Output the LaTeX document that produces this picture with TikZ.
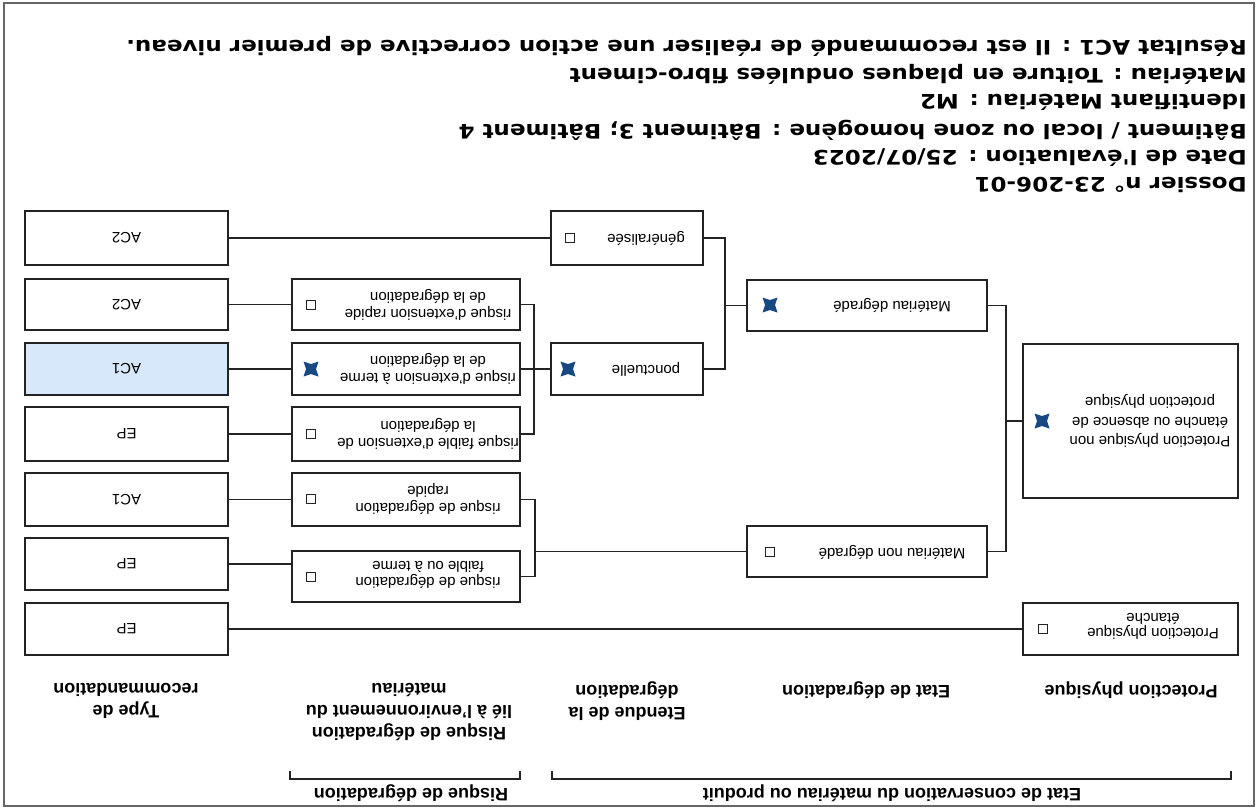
\documentclass[tikz,border=0pt]{standalone}
\usepackage{fontspec}
\setmainfont{Liberation Sans}
\newfontfamily\hdrfont{DejaVu Sans}
\definecolor{ckblue}{RGB}{24,72,130}
\definecolor{acfill}{RGB}{214,232,249}
\definecolor{ln}{RGB}{35,35,35}
\begin{document}
\begin{tikzpicture}[x=1pt,y=-1pt,
  box/.style={draw=ln, line width=1.8pt, inner sep=0pt, fill=white},
  colP/.style={box, minimum width=215pt},
  colE/.style={box, minimum width=240pt},
  colG/.style={box, minimum width=152pt},
  colR/.style={box, minimum width=228pt},
  colT/.style={box, minimum width=203pt, font=\fontsize{15}{17}\selectfont, rotate=180},
  hbox/.style={minimum height=52pt},
  txt/.style={rotate=180, align=center, inner sep=0pt, font=\fontsize{15}{16.5}\selectfont},
  lbl/.style={rotate=180, align=center, inner sep=0pt, font=\fontsize{18}{22}\selectfont\bfseries},
  hdr/.style={rotate=180, xscale=1.15, anchor=west, inner sep=0pt, font=\hdrfont\bfseries\fontsize{20}{23}\selectfont},
  conn/.style={draw=ln, line width=1.8pt},
  emptychk/.pic={\draw[line width=1.3pt, ln, fill=white] (-4.5,-4.5) rectangle (4.5,4.5);},
  fullchk/.pic={\fill[ckblue] (-7.5,-7.5) -- (0,-5) -- (7.5,-7.5) -- (5,0) -- (7.5,7.5) -- (0,5) -- (-7.5,7.5) -- (-5,0) -- cycle;}
]
\useasboundingbox (0,0) rectangle (1257,809);
\draw[black!60, line width=1.5pt] (4,3) rectangle (1254,806);

% header
\node[hdr] (h1) at (1247,46) {Résultat AC1 : Il est recommandé de réaliser une action corrective de premier niveau.};
\node[hdr] (h2) at (1247,74) {Matériau : Toiture en plaques ondulées fibro-ciment};
\node[hdr] (h3) at (1247,102) {Identifiant Matériau : M2};
\node[hdr] (h4) at (1247,130) {Bâtiment / local ou zone homogène : Bâtiment 3; Bâtiment 4};
\node[hdr] (h5) at (1247,158) {Date de l'évaluation : 25/07/2023};
\node[hdr] (h6) at (1247,185) {Dossier n° 23-206-01};

% protection column
\node[colP, minimum height=154pt] (pA) at (1130.5,421) {};
\node[colP, hbox] (pB) at (1130.5,629) {};
% etat column
\node[colE, minimum height=51pt] (eA) at (867,305.5) {};
\node[colE, minimum height=51pt] (eB) at (867,551.5) {};
% etendue column
\node[colG, minimum height=54pt] (gA) at (627,238) {};
\node[colG, hbox] (gB) at (627,369) {};
% risque column
\node[colR, minimum height=51pt] (r1) at (406,304.5) {};
\node[colR, hbox] (r2) at (406,369) {};
\node[colR, minimum height=54pt] (r3) at (406,434) {};
\node[colR, minimum height=53pt] (r4) at (406,499.5) {};
\node[colR, minimum height=51pt] (r5) at (406,576.5) {};
% type column
\node[colT, minimum height=54pt] (t1) at (126.5,238) {AC2};
\node[colT, minimum height=51pt] (t2) at (126.5,304.5) {AC2};
\node[colT, hbox, fill=acfill] (t3) at (126.5,369) {AC1};
\node[colT, minimum height=54pt] (t4) at (126.5,434) {EP};
\node[colT, minimum height=53pt] (t5) at (126.5,499.5) {AC1};
\node[colT, hbox] (t6) at (126.5,564) {EP};
\node[colT, hbox] (t7) at (126.5,629) {EP};

% box texts
\node[txt, font=\fontsize{15}{19.5}\selectfont] (pAt) at (1150,421) {Protection physique non\\étanche ou absence de\\protection physique};
\node[txt, font=\fontsize{15}{14}\selectfont] (pBt) at (1153,626) {Protection physique\\étanche};
\node[txt] (eAt) at (892,305) {Matériau dégradé};
\node[txt] (eBt) at (892,552) {Matériau non dégradé};
\node[txt] (gAt) at (646,238) {généralisée};
\node[txt] (gBt) at (646,369) {ponctuelle};
\node[txt] (r1t) at (428,305) {risque d'extension rapide\\de la dégradation};
\node[txt] (r2t) at (428,369) {risque d'extension à terme\\de la dégradation};
\node[txt] (r3t) at (428,434) {risque faible d'extension de\\la dégradation};
\node[txt] (r4t) at (428,499) {risque de dégradation\\rapide};
\node[txt] (r5t) at (428,575) {risque de dégradation\\faible ou à terme};

% check marks
\pic at (1042,421) {fullchk};
\pic at (1043,629) {emptychk};
\pic at (770,305) {fullchk};
\pic at (770,552) {emptychk};
\pic at (570,238) {emptychk};
\pic at (568,369) {fullchk};
\pic at (311,305) {emptychk};
\pic at (311,369) {fullchk};
\pic at (311,434) {emptychk};
\pic at (311,499) {emptychk};
\pic at (311,577) {emptychk};

% connectors
\coordinate (J1) at (1006,421);
\coordinate (J2) at (725,305.5);
\coordinate (J3) at (534,369);
\coordinate (J4) at (535,551.5);
\draw[conn] (pA.west) -- (J1);
\draw[conn] (eA.east) -| (J1) |- (eB.east);
\draw[conn] (pB.west) -- (t7.west);
\draw[conn] (eA.west) -- (J2);
\draw[conn] (gA.east) -| (J2) |- (gB.east);
\draw[conn] (gA.west) -- (t1.west);
\draw[conn] (gB.west) -- (J3);
\draw[conn] (r1.east) -| (J3) |- (r3.east);
\draw[conn] (r2.east) -- (J3);
\draw[conn] (eB.west) -- (J4);
\draw[conn] (r4.east) -| (J4) |- (r5.east);
\draw[conn] (r1.west) -- (t2.west);
\draw[conn] (r2.west) -- (t3.west);
\draw[conn] (r3.west) -- (t4.west);
\draw[conn] (r4.west) -- (t5.west);
\draw[conn] (t6.west) -- (t6.west -| r5.west);

% column labels
\node[lbl] (lP) at (1131,690) {Protection physique};
\node[lbl] (lE) at (866,690) {Etat de dégradation};
\node[lbl] (lG) at (627,701) {Etendue de la\\dégradation};
\node[lbl] (lR) at (409,712) {Risque de dégradation\\lié à l'environnement du\\matériau};
\node[lbl] (lT) at (126,701) {Type de\\recommandation};

% brackets
\draw[conn, line width=1.5pt] (552,771) -- (552,779) -- (1231,779) -- (1231,771);
\draw[conn, line width=1.5pt] (290,771) -- (290,779) -- (520,779) -- (520,771);
\node[lbl] (bE) at (892,793) {Etat de conservation du matériau ou produit};
\node[lbl] (bR) at (411,793) {Risque de dégradation};
\end{tikzpicture}
\end{document}
